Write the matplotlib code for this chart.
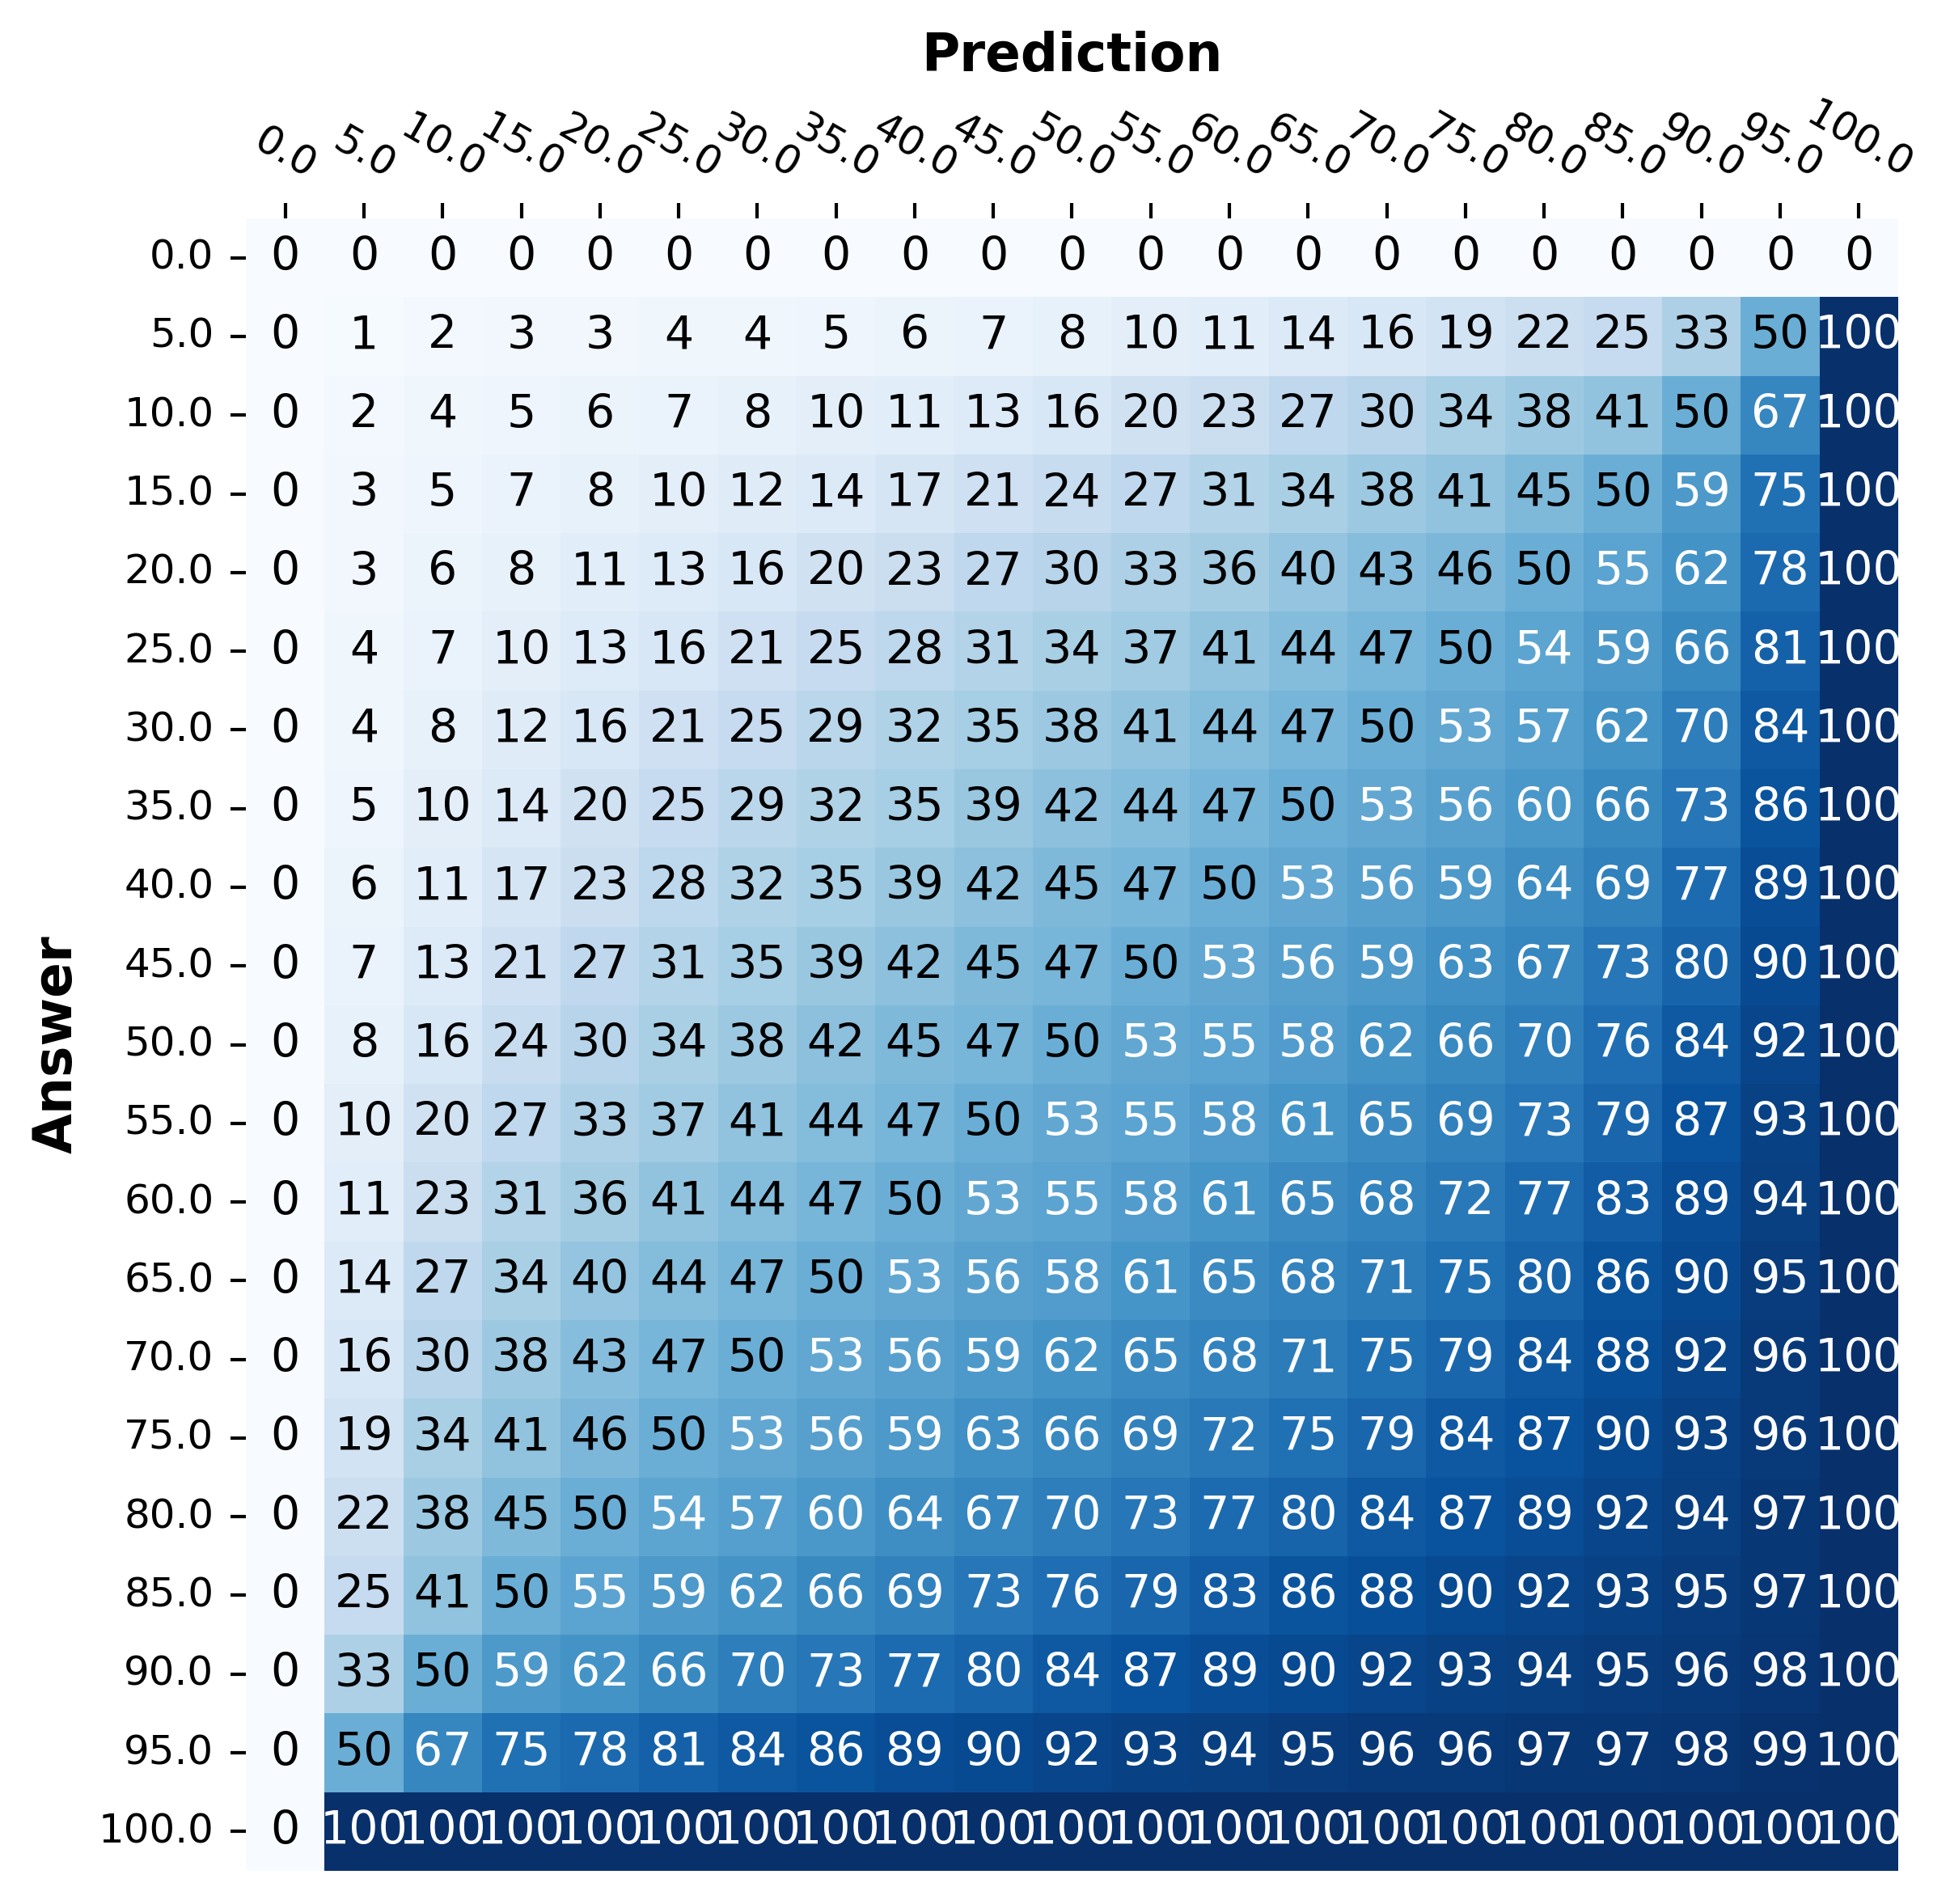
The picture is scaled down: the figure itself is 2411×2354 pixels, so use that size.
import numpy as np
import matplotlib
matplotlib.use("Agg")
import matplotlib.pyplot as plt
import seaborn as sns

labels = ["0.0", "5.0", "10.0", "15.0", "20.0", "25.0", "30.0", "35.0", "40.0", "45.0", "50.0",
          "55.0", "60.0", "65.0", "70.0", "75.0", "80.0", "85.0", "90.0", "95.0", "100.0"]

row_0   = [0]*21
row_5   = [0, 1, 2, 3, 3, 4, 4, 5, 6, 7, 8, 10, 11, 14, 16, 19, 22, 25, 33, 50, 100]
row_10  = [0, 2, 4, 5, 6, 7, 8, 10, 11, 13, 16, 20, 23, 27, 30, 34, 38, 41, 50, 67, 100]
row_15  = [0, 3, 5, 7, 8, 10, 12, 14, 17, 21, 24, 27, 31, 34, 38, 41, 45, 50, 59, 75, 100]
row_20  = [0, 3, 6, 8, 11, 13, 16, 20, 23, 27, 30, 33, 36, 40, 43, 46, 50, 55, 62, 78, 100]
row_25  = [0, 4, 7, 10, 13, 16, 21, 25, 28, 31, 34, 37, 41, 44, 47, 50, 54, 59, 66, 81, 100]
row_30  = [0, 4, 8, 12, 16, 21, 25, 29, 32, 35, 38, 41, 44, 47, 50, 53, 57, 62, 70, 84, 100]
row_35  = [0, 5, 10, 14, 20, 25, 29, 32, 35, 39, 42, 44, 47, 50, 53, 56, 60, 66, 73, 86, 100]
row_40  = [0, 6, 11, 17, 23, 28, 32, 35, 39, 42, 45, 47, 50, 53, 56, 59, 64, 69, 77, 89, 100]
row_45  = [0, 7, 13, 21, 27, 31, 35, 39, 42, 45, 47, 50, 53, 56, 59, 63, 67, 73, 80, 90, 100]
row_50  = [0, 8, 16, 24, 30, 34, 38, 42, 45, 47, 50, 53, 55, 58, 62, 66, 70, 76, 84, 92, 100]
row_55  = [0, 10, 20, 27, 33, 37, 41, 44, 47, 50, 53, 55, 58, 61, 65, 69, 73, 79, 87, 93, 100]
row_60  = [0, 11, 23, 31, 36, 41, 44, 47, 50, 53, 55, 58, 61, 65, 68, 72, 77, 83, 89, 94, 100]
row_65  = [0, 14, 27, 34, 40, 44, 47, 50, 53, 56, 58, 61, 65, 68, 71, 75, 80, 86, 90, 95, 100]
row_70  = [0, 16, 30, 38, 43, 47, 50, 53, 56, 59, 62, 65, 68, 71, 75, 79, 84, 88, 92, 96, 100]
row_75  = [0, 19, 34, 41, 46, 50, 53, 56, 59, 63, 66, 69, 72, 75, 79, 84, 87, 90, 93, 96, 100]
row_80  = [0, 22, 38, 45, 50, 54, 57, 60, 64, 67, 70, 73, 77, 80, 84, 87, 89, 92, 94, 97, 100]
row_85  = [0, 25, 41, 50, 55, 59, 62, 66, 69, 73, 76, 79, 83, 86, 88, 90, 92, 93, 95, 97, 100]
row_90  = [0, 33, 50, 59, 62, 66, 70, 73, 77, 80, 84, 87, 89, 90, 92, 93, 94, 95, 96, 98, 100]
row_95  = [0, 50, 67, 75, 78, 81, 84, 86, 89, 90, 92, 93, 94, 95, 96, 96, 97, 97, 98, 99, 100]
row_100 = [0] + [100]*20

data = np.array([row_0, row_5, row_10, row_15, row_20, row_25, row_30, row_35, row_40, row_45,
                 row_50, row_55, row_60, row_65, row_70, row_75, row_80, row_85, row_90, row_95,
                 row_100])

fig = plt.figure(figsize=(2411/300, 2354/300), dpi=300)
ax = fig.add_axes([304/2411, 1 - 2313/2354, (2347-304)/2411, (2313-270)/2354])
sns.heatmap(data, ax=ax, annot=False, cmap="Blues", vmin=0, vmax=100, cbar=False,
            xticklabels=labels, yticklabels=labels)

n_rows, n_cols = data.shape
for i in range(n_rows):
    for j in range(n_cols):
        v = data[i, j]
        ax.text(j + 0.5, i + 0.5, f"{v:d}", ha="center", va="center",
                fontsize=13.7, color="white" if v > 50 else "black")

ax.xaxis.tick_top()
ax.xaxis.set_label_position("top")
ax.tick_params(axis="both", labelsize=12, length=4.5, width=1.0, pad=5)
plt.setp(ax.get_xticklabels(), rotation=-30, ha="center")
plt.setp(ax.get_yticklabels(), rotation=0)
ax.set_xlabel("Prediction", fontsize=15.5, fontweight="bold", labelpad=7)
ax.set_ylabel("Answer", fontsize=15.5, fontweight="bold", labelpad=4.5)

fig.savefig("out.png", dpi=300)
